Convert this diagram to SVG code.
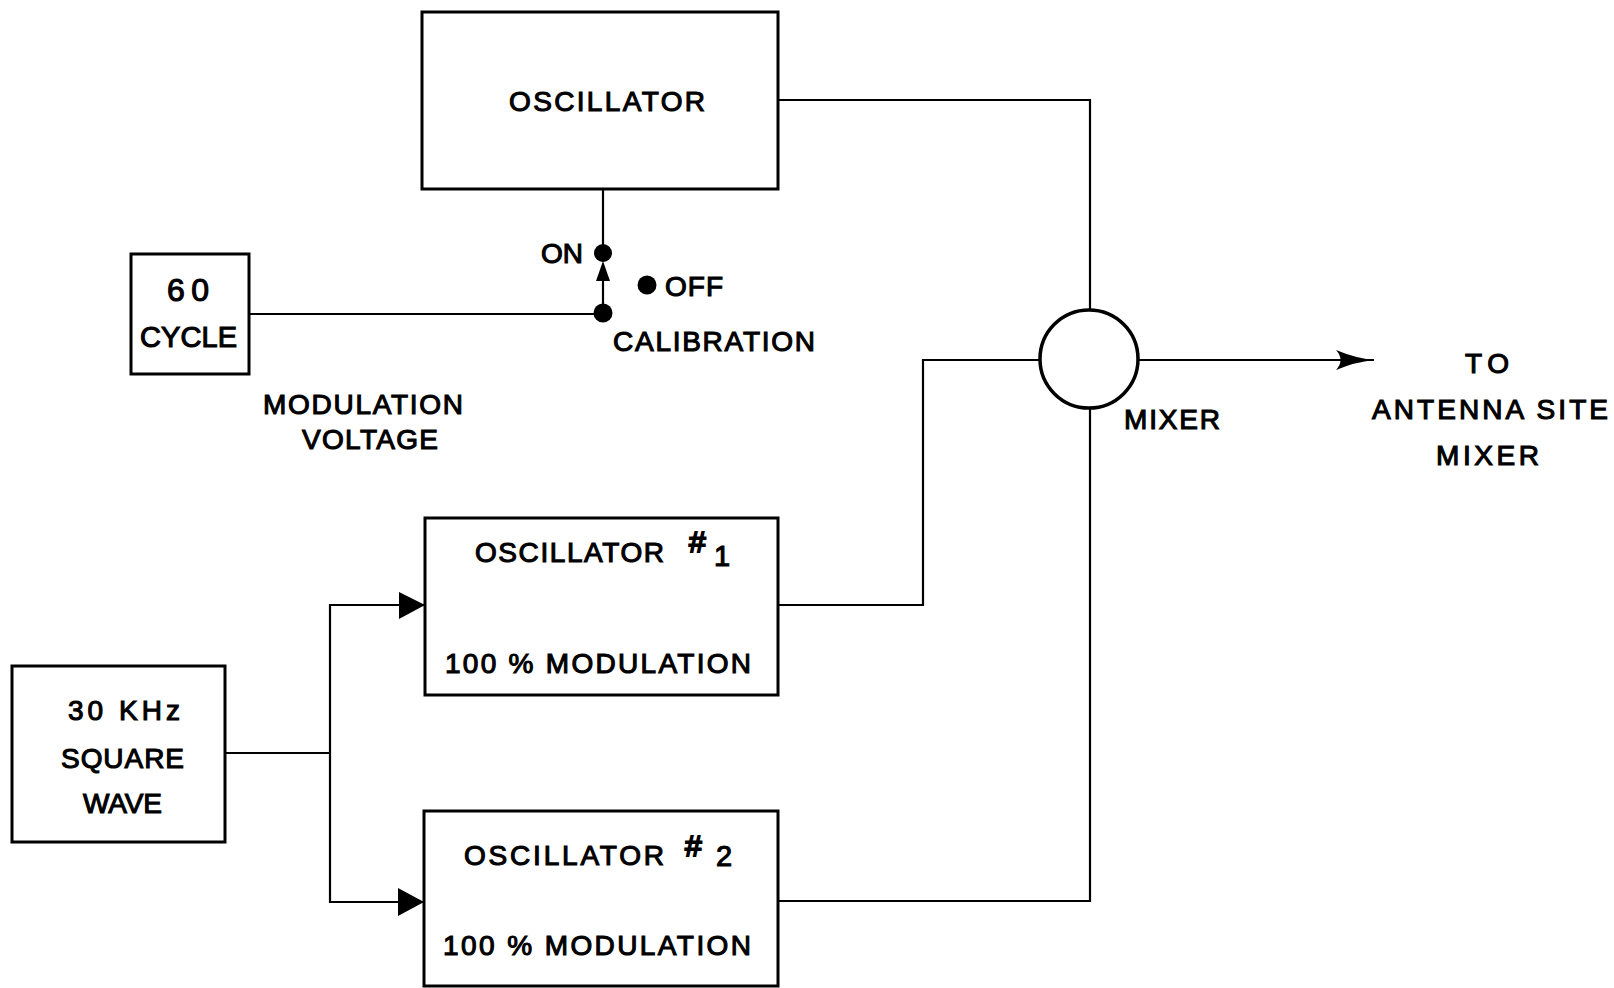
<svg xmlns="http://www.w3.org/2000/svg" width="1614" height="988" viewBox="0 0 1614 988">
<style>
  .box{fill:#fff;stroke:#000;stroke-width:3}
  .ln{fill:none;stroke:#000;stroke-width:2.2}
  text{font-family:"Liberation Sans",Arial,sans-serif;font-size:28px;fill:#000;stroke:#000;stroke-width:1.1}
  .sup{font-size:30px;stroke-width:1.8}
  .num{font-size:29px}
</style>
<defs>
  <marker id="barb" viewBox="0 0 38 20" refX="38" refY="10" markerWidth="38" markerHeight="20" markerUnits="userSpaceOnUse" orient="auto">
    <path d="M0,0 Q19,8 38,10 Q19,12 0,20 Q9,10 0,0 Z" fill="#000"/>
  </marker>
</defs>
<rect width="1614" height="988" fill="#fff"/>

<g id="connectors">
  <polyline class="ln" points="778,100 1090,100 1090,310"/>
  <line class="ln" x1="603" y1="189" x2="603" y2="253"/>
  <line class="ln" x1="249" y1="314" x2="603" y2="314"/>
  <line class="ln" x1="603" y1="313" x2="603" y2="278"/>
  <path d="M603,261 L610,281 L596,281 Z" fill="#000"/>
  <polyline class="ln" points="778,605 923,605 923,360 1040,360"/>
  <polyline class="ln" points="778,901 1090,901 1090,409"/>
  <line class="ln" x1="1139" y1="360" x2="1374" y2="360" marker-end="url(#barb)"/>
  <polyline class="ln" points="225,753 330,753"/>
  <polyline class="ln" points="424,605 330,605 330,902 424,902"/>
  <path d="M399,592 L425,605 L399,619 Z" fill="#000"/>
  <path d="M398,888 L424,902 L398,916 Z" fill="#000"/>
</g>

<g id="oscillator">
  <rect class="box" x="422" y="12" width="356" height="177"/>
  <text x="509" y="111" textLength="196" lengthAdjust="spacing">OSCILLATOR</text>
</g>

<g id="switch">
  <circle cx="603" cy="253" r="9" fill="#000"/>
  <circle cx="603" cy="313" r="9.5" fill="#000"/>
  <circle cx="647" cy="285" r="9.5" fill="#000"/>
  <text x="541" y="263" textLength="42" lengthAdjust="spacing">ON</text>
  <text x="665" y="296" textLength="58" lengthAdjust="spacing">OFF</text>
  <text x="613" y="351" textLength="202" lengthAdjust="spacing">CALIBRATION</text>
</g>

<g id="cycle60">
  <rect class="box" x="131" y="254" width="118" height="120"/>
  <text x="167" y="301" textLength="42" lengthAdjust="spacing" style="font-size:32px">60</text>
  <text x="140" y="347" textLength="97" lengthAdjust="spacing" style="font-size:29px">CYCLE</text>
</g>

<g id="modvoltage">
  <text x="263" y="414" textLength="200" lengthAdjust="spacing">MODULATION</text>
  <text x="302" y="449" textLength="136" lengthAdjust="spacing">VOLTAGE</text>
</g>

<g id="mixer">
  <circle cx="1089" cy="359" r="49" fill="#fff" stroke="#000" stroke-width="3.5"/>
  <text x="1124" y="429" textLength="96" lengthAdjust="spacing">MIXER</text>
</g>

<g id="antenna">
  <text x="1465" y="373" textLength="44" lengthAdjust="spacing">TO</text>
  <text x="1372" y="419" textLength="236" lengthAdjust="spacing">ANTENNA SITE</text>
  <text x="1436" y="465" textLength="103" lengthAdjust="spacing">MIXER</text>
</g>

<g id="osc1">
  <rect class="box" x="425" y="518" width="353" height="177"/>
  <text x="475" y="562" textLength="189" lengthAdjust="spacing">OSCILLATOR</text>
  <text class="sup" x="689" y="552">#</text>
  <text class="num" x="714" y="566">1</text>
  <text x="445" y="673" textLength="306" lengthAdjust="spacing">100 % MODULATION</text>
</g>

<g id="osc2">
  <rect class="box" x="424" y="811" width="354" height="175"/>
  <text x="464" y="865" textLength="200" lengthAdjust="spacing">OSCILLATOR</text>
  <text class="sup" x="685" y="856">#</text>
  <text class="num" x="716" y="866">2</text>
  <text x="443" y="955" textLength="308" lengthAdjust="spacing">100 % MODULATION</text>
</g>

<g id="square30">
  <rect class="box" x="12" y="666" width="213" height="176"/>
  <text x="68" y="720" textLength="112" lengthAdjust="spacing">30 KHz</text>
  <text x="61" y="768" textLength="123" lengthAdjust="spacing">SQUARE</text>
  <text x="83" y="813" textLength="79" lengthAdjust="spacing">WAVE</text>
</g>
</svg>
